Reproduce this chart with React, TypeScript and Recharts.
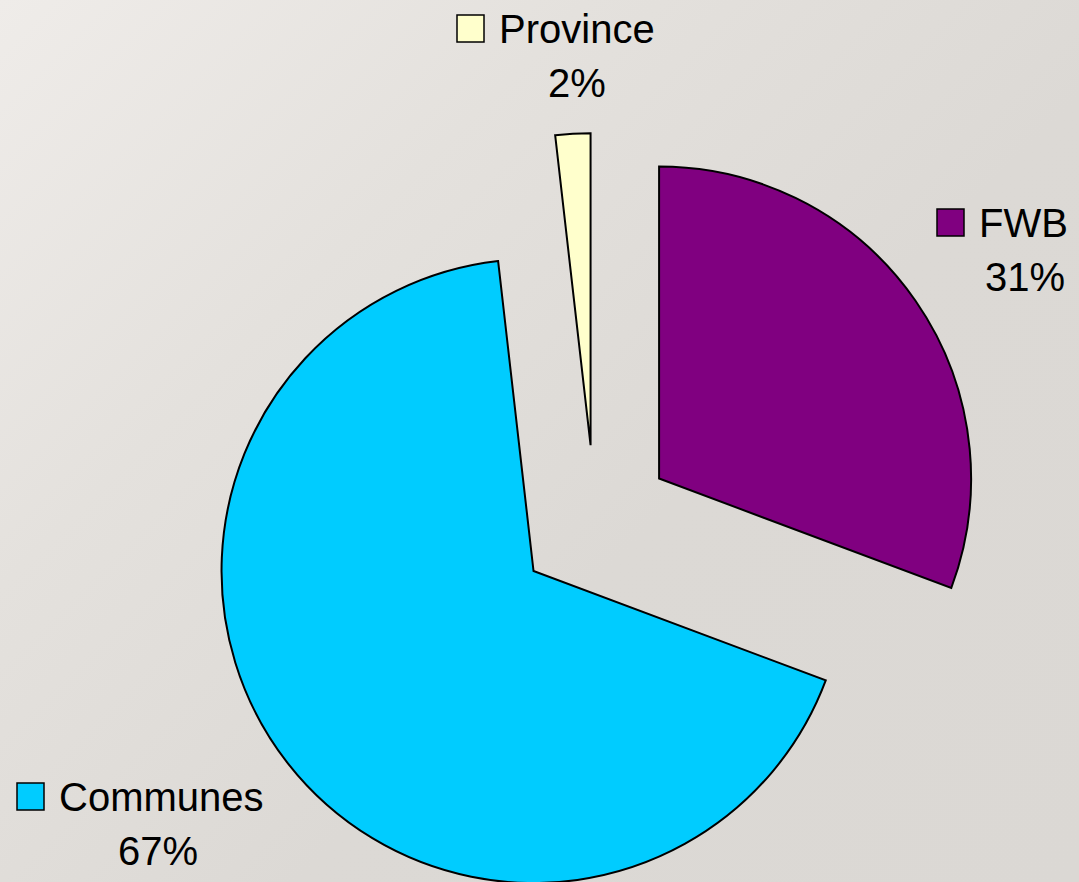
import { PieChart, Pie, Cell } from "recharts";

const categories = ["FWB", "Communes", "Province"];
const shares = [30.7, 67.49, 1.81];
const colors = ["#800080", "#00CCFF", "#FFFFCC"];

const W = 1079;
const H = 882;
const CX = 595;
const CY = 523;
const R = 312;
const EXPLODE = 78;

// where each data label goes: key square + name, then percent centred below
const labelPos: Record<string, { x: number; y: number; pctX: number }> = {
  FWB: { x: 937, y: 237, pctX: 1025 },
  Communes: { x: 17, y: 811, pctX: 158 },
  Province: { x: 457, y: 43, pctX: 577 },
};

const data = categories.map((name, i) => ({ name, value: shares[i] }));
const total = shares.reduce((a, b) => a + b, 0);

// mid angle of each slice, degrees clockwise from 12 o'clock
const midAngles: number[] = [];
let acc = 0;
shares.forEach((v) => {
  midAngles.push(((acc + v / 2) / total) * 360);
  acc += v;
});

const font = "'Liberation Sans', Arial, sans-serif";

export default function App() {
  return (
    <div
      style={{
        position: "fixed",
        left: 0,
        top: 0,
        width: W,
        height: H,
        background:
          "linear-gradient(135deg, #efece9 0%, #e4e1dd 30%, #dcd9d5 60%, #dbd8d4 100%)",
      }}
    >
      <PieChart width={W} height={H} margin={{ top: 0, right: 0, bottom: 0, left: 0 }}>
        {categories.map((cat, k) => {
          const a = (midAngles[k] * Math.PI) / 180;
          const cx = CX + EXPLODE * Math.sin(a);
          const cy = CY - EXPLODE * Math.cos(a);
          return (
            <Pie
              key={cat}
              data={data}
              dataKey="value"
              nameKey="name"
              cx={cx}
              cy={cy}
              innerRadius={0}
              outerRadius={R}
              startAngle={90}
              endAngle={-270}
              isAnimationActive={false}
              labelLine={false}
              label={(p: any) => {
                if (p.index !== k) return null;
                const pos = labelPos[cat];
                return (
                  <g>
                    <rect
                      x={pos.x}
                      y={pos.y - 28}
                      width={27}
                      height={27}
                      fill={colors[k]}
                      stroke="#000"
                      strokeWidth={1.5}
                    />
                    <text x={pos.x + 42} y={pos.y} fontSize={40} fontFamily={font} fill="#000">
                      {cat}
                    </text>
                    <text
                      x={pos.pctX}
                      y={pos.y + 54}
                      fontSize={40}
                      fontFamily={font}
                      fill="#000"
                      textAnchor="middle"
                    >
                      {`${Math.round(p.percent * 100)}%`}
                    </text>
                  </g>
                );
              }}
            >
              {data.map((d, i) => (
                <Cell
                  key={d.name}
                  fill={i === k ? colors[k] : "none"}
                  stroke={i === k ? "#000" : "none"}
                  strokeWidth={2}
                />
              ))}
            </Pie>
          );
        })}
      </PieChart>
    </div>
  );
}
